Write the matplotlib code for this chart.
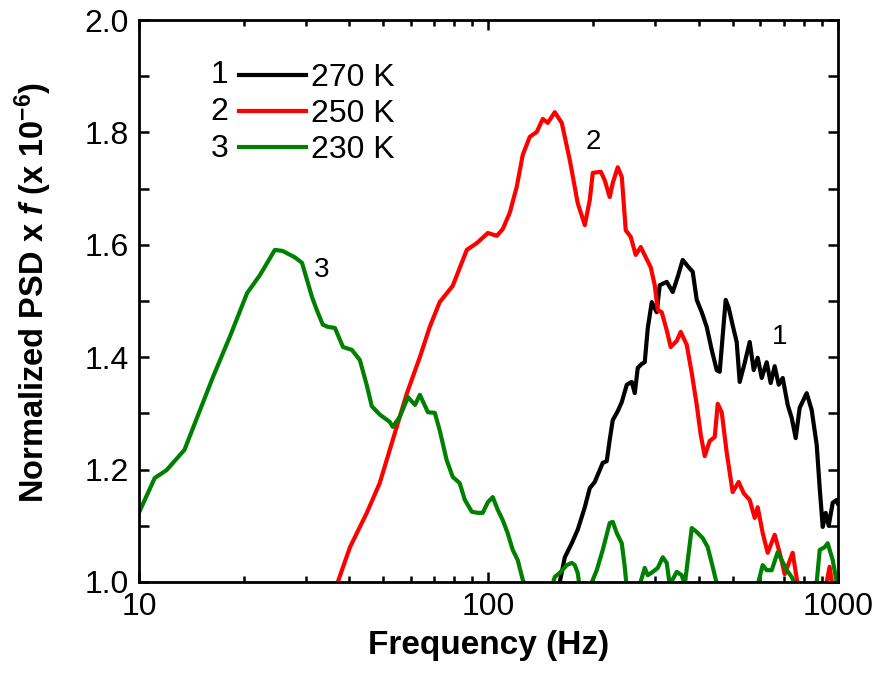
import numpy as np
import matplotlib
matplotlib.use("Agg")
from matplotlib import pyplot as plt
from matplotlib.ticker import MultipleLocator, LogLocator, NullFormatter

plt.rcParams["font.family"] = ["Liberation Sans", "DejaVu Sans"]
plt.rcParams["mathtext.fontset"] = "custom"
plt.rcParams["mathtext.rm"] = "Liberation Sans:bold"
plt.rcParams["mathtext.it"] = "Liberation Sans:bold:italic"
plt.rcParams["mathtext.bf"] = "Liberation Sans:bold"

# 270 K
f1 = [157, 160.2, 165.6, 173.4, 180.3, 188.9, 195.2, 201.7, 208.4, 212.6, 218.3, 222.6, 227.1,
      234.7, 241.0, 249.1, 257.4, 262.6, 267.8, 274.9, 280.4, 286.1, 293.7, 303.4, 309.5, 324.1,
      337.2, 348.5, 360.1, 372.2, 384.7, 395.0, 408.3, 421.8, 436.0, 450.6, 459.6, 468.8, 478.1,
      487.6, 500.5, 514.0, 524.3, 541.9, 560.0, 575.1, 590.3, 606.2, 626.3, 643.1, 660.2, 678.0,
      696.1, 719.4, 738.6, 758.3, 778.5, 815.2, 842.5, 870.9, 888.3, 906.1, 924.2, 942.6, 967.7,
      993.4, 1000]
p1 = [0.98, 1.0, 1.044, 1.069, 1.093, 1.133, 1.167, 1.178, 1.199, 1.212, 1.215, 1.253, 1.288,
      1.304, 1.320, 1.351, 1.356, 1.336, 1.381, 1.388, 1.391, 1.452, 1.498, 1.480, 1.528, 1.534,
      1.516, 1.543, 1.573, 1.562, 1.552, 1.502, 1.480, 1.454, 1.413, 1.377, 1.374, 1.439, 1.502,
      1.488, 1.457, 1.427, 1.356, 1.390, 1.427, 1.377, 1.399, 1.363, 1.391, 1.354, 1.384, 1.351,
      1.363, 1.315, 1.292, 1.256, 1.310, 1.336, 1.306, 1.244, 1.167, 1.098, 1.123, 1.100, 1.141,
      1.146, 1.14]

# 250 K
f2 = [36.5, 37.1, 40.2, 44.9, 48.9, 53.3, 58.5, 63.7, 68.0, 72.6, 79.1, 86.8, 92.7, 99.7, 105.8,
      110.0, 115.2, 120.6, 125.5, 131.4, 137.7, 143.2, 148.0, 155.0, 162.3, 171.1, 180.3, 188.9,
      195.2, 199.1, 209.9, 215.4, 222.6, 227.1, 234.7, 241.0, 247.4, 255.7, 264.2, 273.1, 282.2,
      291.7, 299.5, 305.5, 313.6, 324.1, 332.8, 346.2, 355.5, 369.8, 382.2, 395.0, 405.5, 416.4,
      430.3, 444.7, 453.6, 465.7, 481.3, 500.5, 520.7, 538.2, 560.0, 578.8, 590.3, 610.1, 630.5,
      660.2, 682.3, 705.3, 743.3, 768.4, 790, 900, 924, 948, 968, 985]
p2 = [0.985, 1.0, 1.062, 1.123, 1.176, 1.253, 1.336, 1.400, 1.454, 1.498, 1.527, 1.591, 1.603,
      1.621, 1.616, 1.628, 1.657, 1.703, 1.760, 1.792, 1.801, 1.824, 1.817, 1.836, 1.817, 1.751,
      1.674, 1.635, 1.680, 1.728, 1.730, 1.715, 1.685, 1.710, 1.738, 1.721, 1.626, 1.614, 1.582,
      1.596, 1.578, 1.560, 1.528, 1.484, 1.480, 1.448, 1.418, 1.429, 1.445, 1.422, 1.372, 1.315,
      1.262, 1.224, 1.251, 1.258, 1.317, 1.302, 1.230, 1.160, 1.178, 1.158, 1.146, 1.114, 1.133,
      1.087, 1.052, 1.084, 1.052, 1.014, 1.052, 0.995, 0.97, 0.97, 0.99, 1.027, 0.99, 0.97]

# 230 K
f3 = [10.0, 11.1, 12.0, 13.5, 16.3, 18.2, 20.4, 22.2, 24.5, 25.8, 27.9, 29.3, 31.3, 32.3, 33.6,
      34.7, 36.4, 38.4, 40.7, 42.9, 44.9, 46.4, 48.9, 52.2, 53.3, 55.8, 58.9, 61.7, 63.7, 67.2,
      70.3, 72.6, 76.0, 79.1, 82.8, 85.7, 89.7, 93.3, 96.4, 99.7, 103, 106.5, 110, 113.6, 117.5,
      121.4, 125.5, 130, 150, 155, 160, 167.7, 173.4, 176.8, 180.3, 182.7, 195, 204.4, 212.6,
      222.6, 227.1, 233.2, 241, 245.8, 249, 260, 271.3, 280.4, 286.1, 295.7, 305.5, 315.7, 324.1,
      330.6, 346.2, 357.8, 365, 382.2, 395, 411, 424.6, 438.8, 453.6, 500, 590.3, 610.1, 626.3,
      647.4, 673.4, 691.5, 714.6, 738.6, 763.3, 820, 870.9, 888.3, 917.9, 936.2, 967.7, 993.4, 1000]
p3 = [1.123, 1.185, 1.199, 1.235, 1.365, 1.436, 1.514, 1.546, 1.591, 1.589, 1.578, 1.568, 1.507,
      1.484, 1.458, 1.454, 1.452, 1.418, 1.413, 1.395, 1.350, 1.313, 1.298, 1.285, 1.276, 1.294,
      1.329, 1.315, 1.333, 1.302, 1.301, 1.270, 1.217, 1.187, 1.176, 1.146, 1.125, 1.123, 1.123,
      1.142, 1.151, 1.128, 1.110, 1.087, 1.057, 1.039, 1.004, 0.98, 0.98, 1.009, 1.016, 1.030,
      1.034, 1.030, 1.016, 0.99, 0.99, 1.021, 1.057, 1.105, 1.107, 1.087, 1.069, 1.027, 0.99,
      0.99, 0.995, 1.025, 1.012, 1.018, 1.025, 1.044, 1.034, 0.995, 1.018, 1.012, 0.995, 1.096,
      1.089, 1.078, 1.062, 1.027, 0.99, 0.98, 0.995, 1.030, 1.021, 1.021, 1.053, 1.039, 1.021,
      1.009, 0.99, 0.98, 1.000, 1.057, 1.062, 1.069, 1.039, 1.000, 0.99]

fig = plt.figure(figsize=(8.79, 6.81), dpi=100)
ax = fig.add_axes([0.158, 0.1454, 0.795, 0.8252])

ax.plot(f1, p1, color="black", lw=3, label="270 K")
ax.plot(f2, p2, color="#ff0000", lw=3, label="250 K")
ax.plot(f3, p3, color="#008000", lw=3, label="230 K")

ax.set_xscale("log")
ax.set_xlim(10, 1000)
ax.set_ylim(1.0, 2.0)
ax.yaxis.set_major_locator(MultipleLocator(0.2))
ax.yaxis.set_minor_locator(MultipleLocator(0.1))
ax.xaxis.set_minor_locator(LogLocator(base=10, subs=np.arange(2, 10)))
ax.xaxis.set_minor_formatter(NullFormatter())
ax.set_xticks([10, 100, 1000])
ax.set_xticklabels(["10", "100", "1000"])

for s in ax.spines.values():
    s.set_linewidth(2)
ax.tick_params(which="both", direction="in", top=True, right=True, width=1.8, labelsize=23, pad=7)
ax.tick_params(which="major", length=7)
ax.tick_params(axis="x", which="minor", length=4)
ax.tick_params(axis="y", which="minor", length=7)

ax.set_xlabel("Frequency (Hz)", fontsize=24, fontweight="bold", labelpad=6)
ax.set_ylabel(r"Normalized PSD x $\mathit{f}$ (x 10$^{\mathbf{-6}}$)", fontsize=23.5,
              fontweight="bold", labelpad=22)
ax.yaxis.label.set_y(0.515)

leg = ax.legend(loc="upper left", bbox_to_anchor=(0.1245, 0.9466), frameon=False, fontsize=23,
                handlelength=2.1, handletextpad=0.15, labelspacing=0.19, borderaxespad=0)
for i, num in enumerate(["1", "2", "3"]):
    ax.text(0.128, 0.902 - i * 0.0658, num, transform=ax.transAxes, fontsize=23,
            ha="right", va="center")

ax.text(33.4, 1.555, "3", fontsize=20, ha="center", va="center")
ax.text(200.4, 1.783, "2", fontsize=20, ha="center", va="center")
ax.text(682, 1.436, "1", fontsize=20, ha="center", va="center")

fig.savefig("out.png", dpi=100)
